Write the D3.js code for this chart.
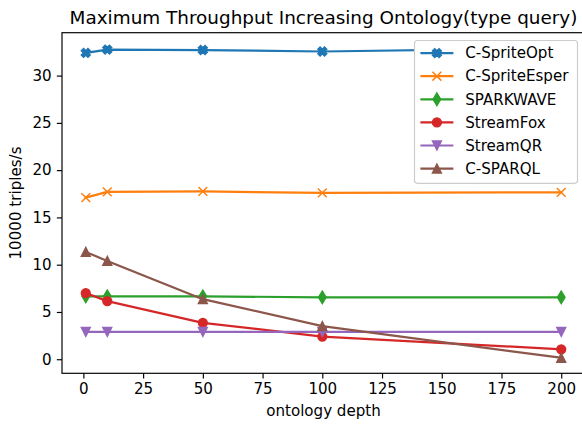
<!DOCTYPE html>
<html>
<head>
<meta charset="utf-8">
<script src="https://cdn.jsdelivr.net/npm/d3@7"></script>
<style>
  body { margin: 0; background: #fff; }
  svg { display: block; font-family: "DejaVu Sans", sans-serif; }
</style>
</head>
<body>
<div id="chart"></div>
<script>
// data
const depth = [1, 10, 50, 100, 200];
const spriteOpt = [32.4, 32.75, 32.7, 32.55, 32.9];
const spriteEsper = [17.1, 17.7, 17.75, 17.6, 17.65];
const sparkwave = [6.65, 6.65, 6.65, 6.55, 6.55];
const streamFox = [7.0, 6.15, 3.85, 2.4, 1.05];
const streamQR = [2.9, 2.9, 2.9, 2.9, 2.9];
const cSparql = [11.35, 10.4, 6.35, 3.5, 0.15];
const xTicks = [0, 25, 50, 75, 100, 125, 150, 175, 200];
const yTicks = [0, 5, 10, 15, 20, 25, 30];

const seriesNames = ["C-SpriteOpt", "C-SpriteEsper", "SPARKWAVE", "StreamFox", "StreamQR", "C-SPARQL"];
const seriesValues = [spriteOpt, spriteEsper, sparkwave, streamFox, streamQR, cSparql];
const seriesMarkers = ["X", "x", "d", "o", "v", "^"];
const colors = ["#1f77b4", "#ff7f0e", "#2ca02c", "#d62728", "#9467bd", "#8c564b"];

const W = 582, H = 424;
const pt = 1.472; // px per point
const fs = 15.1;
const titleFs = 18.4;
const box = { left: 62, right: 585, top: 32.7, bottom: 373.3 };

const svg = d3.select("#chart").append("svg")
    .attr("width", W).attr("height", H);

// matplotlib-like 5% margins
const pad = (lo, hi) => { const m = (hi - lo) * 0.05; return [lo - m, hi + m]; };
const allY = seriesValues.flat();
const x = d3.scaleLinear().domain(pad(d3.min(depth), d3.max(depth))).range([box.left, box.right]);
const y = d3.scaleLinear().domain(pad(d3.min(allY), d3.max(allY))).range([box.bottom, box.top]);

const ms = 6 * pt;   // marker size
const mew = 1 * pt;  // marker edge width

function markerPath(type) {
    const h = ms / 2;
    if (type === "o") {
        return `M${h},0A${h},${h} 0 1,1 ${-h},0A${h},${h} 0 1,1 ${h},0Z`;
    }
    if (type === "x") {
        return `M${-h},${-h}L${h},${h}M${-h},${h}L${h},${-h}`;
    }
    if (type === "X") {
        const p = [[0.25, 0], [0.5, 0.25], [0.25, 0.5], [0, 0.25], [-0.25, 0.5], [-0.5, 0.25],
                   [-0.25, 0], [-0.5, -0.25], [-0.25, -0.5], [0, -0.25], [0.25, -0.5], [0.5, -0.25]];
        return "M" + p.map(d => `${d[0] * ms},${d[1] * ms}`).join("L") + "Z";
    }
    if (type === "d") {
        const hh = ms * Math.SQRT2 / 2, hw = 0.6 * hh;
        return `M0,${-hh}L${hw},0L0,${hh}L${-hw},0Z`;
    }
    if (type === "v") return `M0,${h}L${-h},${-h}L${h},${-h}Z`;
    if (type === "^") return `M0,${-h}L${-h},${h}L${h},${h}Z`;
}

function drawMarker(g, type, color) {
    g.append("path")
        .attr("d", markerPath(type))
        .attr("fill", type === "x" ? "none" : color)
        .attr("stroke", color)
        .attr("stroke-width", mew)
        .attr("stroke-linejoin", "miter");
}

// axes ticks
const xAxis = svg.append("g")
    .attr("transform", `translate(0,${box.bottom})`)
    .call(d3.axisBottom(x).tickValues(xTicks).tickSize(3.5 * pt).tickPadding(3.5 * pt).tickSizeOuter(0));
const yAxis = svg.append("g")
    .attr("transform", `translate(${box.left},0)`)
    .call(d3.axisLeft(y).tickValues(yTicks).tickSize(3.5 * pt).tickPadding(3.5 * pt).tickSizeOuter(0));
[xAxis, yAxis].forEach(a => {
    a.select(".domain").remove();
    a.selectAll("line").attr("stroke", "#000").attr("stroke-width", 0.8 * pt);
    a.selectAll("text").attr("fill", "#000").style("font-size", fs + "px")
        .style("font-family", "DejaVu Sans");
});

const plot = svg.append("g");

const line = d3.line().x((d, i) => x(depth[i])).y(d => y(d));

seriesValues.forEach((vals, k) => {
    plot.append("path")
        .datum(vals)
        .attr("d", line)
        .attr("fill", "none")
        .attr("stroke", colors[k])
        .attr("stroke-width", 1.5 * pt)
        .attr("stroke-linejoin", "round")
        .attr("stroke-linecap", "square");
    vals.forEach((v, i) => {
        const g = plot.append("g").attr("transform", `translate(${x(depth[i])},${y(v)})`);
        drawMarker(g, seriesMarkers[k], colors[k]);
    });
});

// spines
svg.append("rect")
    .attr("x", box.left).attr("y", box.top)
    .attr("width", box.right - box.left).attr("height", box.bottom - box.top)
    .attr("fill", "none").attr("stroke", "#000").attr("stroke-width", 0.8 * pt);

// legend
const lg = { right: 577.5, top: 40.5, width: 163, height: 142.8, rowH: 23.1 };
const legend = svg.append("g");
legend.append("rect")
    .attr("x", lg.right - lg.width).attr("y", lg.top)
    .attr("width", lg.width).attr("height", lg.height)
    .attr("rx", 3).attr("ry", 3)
    .attr("fill", "#fff")
    .attr("stroke", "#cccccc").attr("stroke-width", 1 * pt * 0.8);

seriesNames.forEach((name, k) => {
    const x0 = lg.right - lg.width + 5.9;
    const yy = lg.top + 12.6 + k * lg.rowH;
    const hl = 33;
    const row = legend.append("g").attr("transform", `translate(${x0},${yy})`);
    row.append("line")
        .attr("x1", 0).attr("x2", hl).attr("y1", 0).attr("y2", 0)
        .attr("stroke", colors[k]).attr("stroke-width", 1.5 * pt);
    drawMarker(row.append("g").attr("transform", `translate(${hl / 2},0)`), seriesMarkers[k], colors[k]);
    row.append("text")
        .attr("x", hl + 11.8)
        .attr("y", 0)
        .attr("dy", "0.35em")
        .style("font-size", fs + "px")
        .attr("fill", "#000")
        .text(name);
});

// title and axis labels
svg.append("text")
    .attr("x", (box.left + box.right) / 2)
    .attr("y", box.top - 6 * pt)
    .attr("text-anchor", "middle")
    .style("font-size", titleFs + "px")
    .attr("fill", "#000")
    .text("Maximum Throughput Increasing Ontology(type query)");

svg.append("text")
    .attr("x", (box.left + box.right) / 2)
    .attr("y", 416)
    .attr("text-anchor", "middle")
    .style("font-size", fs + "px")
    .attr("fill", "#000")
    .text("ontology depth");

svg.append("text")
    .attr("transform", `translate(21,${(box.top + box.bottom) / 2}) rotate(-90)`)
    .attr("text-anchor", "middle")
    .style("font-size", fs + "px")
    .attr("fill", "#000")
    .text("10000 triples/s");
</script>
</body>
</html>
